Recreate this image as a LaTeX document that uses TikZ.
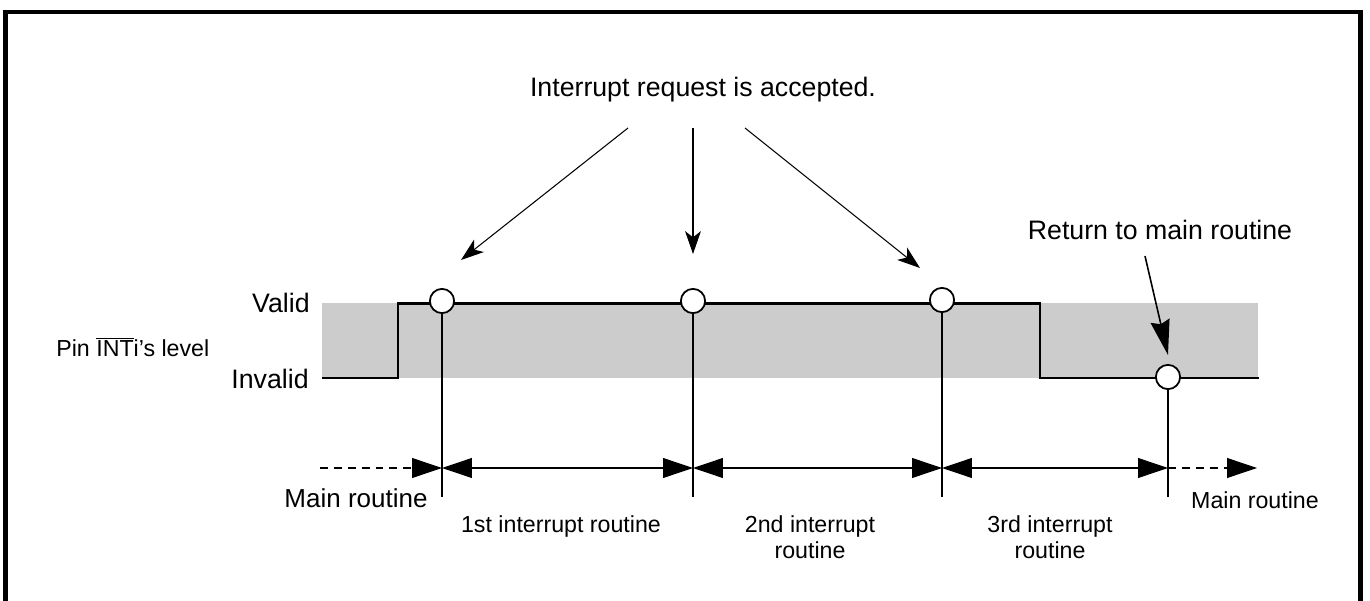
\documentclass[tikz,border=0pt]{standalone}
\usepackage{fontspec}
\setmainfont{Liberation Sans}
\usetikzlibrary{arrows.meta, positioning}

\begin{document}
\begin{tikzpicture}[
    x=0.02cm, y=-0.02cm,
    font=\fontsize{14.8}{17}\selectfont,
    >=Stealth,
    small/.style={font=\fontsize{13.2}{15}\selectfont},
    large/.style={font=\fontsize{15.2}{17}\selectfont},
    label_text/.style={inner sep=0pt},
    level_dot/.style={draw, circle, fill=white, line width=1pt, inner sep=0pt, minimum size=13.8pt},
    pointer/.style={-{Stealth[length=13pt, width=9pt, inset=3.5pt]}, line width=0.6pt},
    return_pointer/.style={-{Stealth[length=20pt, width=11pt, inset=2pt]}, line width=0.9pt},
    dim/.style={{Triangle[length=17pt, width=11.3pt]}-{Triangle[length=17pt, width=11.3pt]}, line width=0.6pt},
    dim_dash/.style={-{Triangle[length=17pt, width=11.3pt]}, line width=0.6pt, dash pattern=on 4.5pt off 3.4pt},
    tick/.style={line width=0.8pt},
    signal/.style={line width=1.4pt}
]

\useasboundingbox (0,0) rectangle (1370,601);
\clip (0,0) rectangle (1370,601);

% FRAME (open at the bottom)
\draw[line width=2.8pt] (5.5,640) -- (5.5,12) -- (1360.5,12) -- (1360.5,640);

% LEVEL BAND AND SIGNAL
\fill[black!20] (322,303.5) rectangle (1258,378);
\draw[signal] (322,378) -- (398,378) -- (398,303.5) -- (1040,303.5) -- (1040,378) -- (1259,378);

\node[label_text, large, anchor=base east] (valid) at (310,313) {Valid};
\node[label_text, large, anchor=base east] (invalid) at (309,389) {Invalid};
\node[label_text, small, anchor=base west] (pin) at (56,357) {Pin \(\overline{\mbox{INT}}\)i’s level};

% ACCEPT POINTS
\node[level_dot] (c1) at (442,301) {};
\node[level_dot] (c2) at (693,301) {};
\node[level_dot] (c3) at (942,300) {};
\node[level_dot] (c4) at (1168,377) {};

\coordinate (b1) at (442,497);
\coordinate (b2) at (693,497);
\coordinate (b3) at (942,497);
\coordinate (b4) at (1168,497);

\draw[tick] (c1.south) -- (b1);
\draw[tick] (c2.south) -- (b2);
\draw[tick] (c3.south) -- (b3);
\draw[tick] (c4.south) -- (b4);

% TIMELINE
\coordinate (d0) at (320,468);
\coordinate (t1) at (442,468);
\coordinate (t2) at (693,468);
\coordinate (t3) at (942,468);
\coordinate (t4) at (1168,468);
\coordinate (d5) at (1257,468);

\draw[dim_dash] (d0) -- (t1);
\draw[dim] (t1) -- (t2);
\draw[dim] (t2) -- (t3);
\draw[dim] (t3) -- (t4);
\draw[dim_dash] (t4) -- (d5);

\node[label_text, anchor=base] (main_in) at (356,507) {Main routine};
\node[label_text, small, anchor=base] (r1) at (561,532) {1st interrupt routine};
\node[label_text, small, align=center] (r2) at (810,537) {2nd interrupt\\routine};
\node[label_text, small, align=center] (r3) at (1050,537) {3rd interrupt\\routine};
\node[label_text, small, anchor=base] (main_out) at (1255,508) {Main routine};

% ACCEPTED REQUESTS
\node[label_text, large, anchor=base] (accept) at (703,97) {Interrupt request is accepted.};

\coordinate (a1s) at (628,128);
\coordinate (a1e) at (461,260);
\coordinate (a2s) at (693,128);
\coordinate (a2e) at (693,254);
\coordinate (a3s) at (745,128);
\coordinate (a3e) at (920,268);

\draw[pointer] (a1s) -- (a1e);
\draw[pointer] (a2s) -- (a2e);
\draw[pointer] (a3s) -- (a3e);

% RETURN
\node[label_text, large, anchor=base] (ret) at (1160,240) {Return to main routine};
\coordinate (rs) at (1145,256);
\coordinate (re) at (1168,355);
\draw[return_pointer] (rs) -- (re);

\end{tikzpicture}
\end{document}
